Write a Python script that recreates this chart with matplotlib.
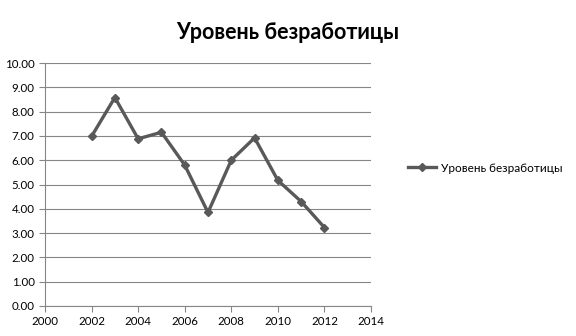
import matplotlib.pyplot as plt

# Unemployment rate by year
years = [2002, 2003, 2004, 2005, 2006, 2007, 2008, 2009, 2010, 2011, 2012]
rate = [6.98, 8.58, 6.88, 7.15, 5.8, 3.85, 6.0, 6.92, 5.17, 4.3, 3.23]
series_name = 'Уровень безработицы'

plt.rcParams['font.family'] = ['Lato', 'DejaVu Sans']

fig = plt.figure(figsize=(5.76, 3.36), dpi=100)
ax = fig.add_axes([45 / 576, 1 - 306 / 336, (371 - 45) / 576, (306 - 63) / 336])

line_color = '#595959'
ax.plot(years, rate, color=line_color, linewidth=2.4, marker='D', markersize=4.5,
        label=series_name)

ax.set_xlim(2000, 2014)
ax.set_ylim(0, 10)
ax.set_xticks(range(2000, 2015, 2))
ax.set_yticks(range(0, 11))
ax.set_yticklabels([f'{v:.2f}' for v in range(0, 11)])

ax.grid(axis='y', color='#868686', linewidth=0.8)
ax.set_axisbelow(True)
for s in ['top', 'right']:
    ax.spines[s].set_visible(False)
for s in ['left', 'bottom']:
    ax.spines[s].set_color('#868686')
    ax.spines[s].set_linewidth(0.8)
ax.tick_params(axis='both', colors='#868686', labelcolor='black', labelsize=8.3, length=4, width=0.8)

fig.suptitle(series_name, x=0.5, y=0.935, fontsize=15.5, fontweight='bold')
fig.legend(loc='center left', bbox_to_anchor=(0.69, 0.5), frameon=False, fontsize=8.5,
           handlelength=2.4, handletextpad=0.4)

fig.savefig('out.png', dpi=100)
